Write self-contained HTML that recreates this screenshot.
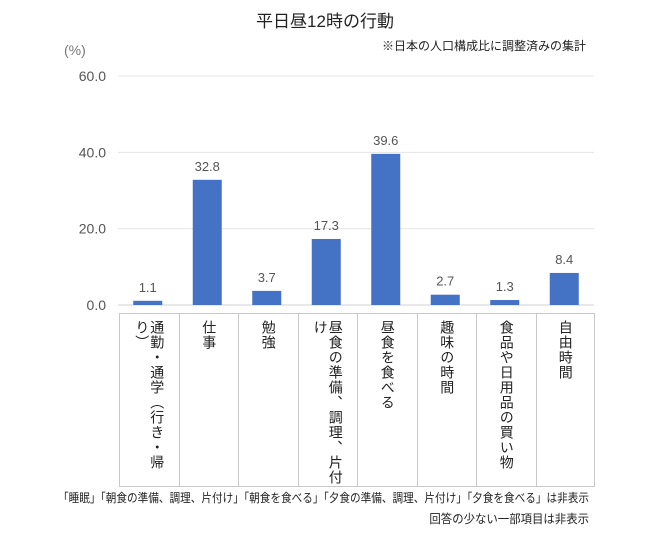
<!DOCTYPE html>
<html><head><meta charset="utf-8">
<style>
body{margin:0;background:#fff;font-family:"Liberation Sans","Noto Sans CJK JP",sans-serif;}
#wrap{position:relative;width:650px;height:544px;overflow:hidden;}
svg{position:absolute;left:0;top:0}
.cell{position:absolute;top:313px;height:174px;border-left:1px solid #c8c8c8;box-sizing:border-box;}
.cell span{position:absolute;top:6px;left:50%;transform:translateX(-50%);writing-mode:vertical-rl;font-size:14px;line-height:15px;color:#222;height:168px;letter-spacing:1px;}
.note{position:absolute;font-size:12px;color:#222;white-space:nowrap}
</style></head><body>
<div id="wrap">
<svg id="svg" width="650" height="544"></svg>
<div id="table" style="position:absolute;left:119px;top:0;width:473px;height:544px;"></div>
<div class="note" style="left:58px;top:489px;transform:scaleX(0.885);transform-origin:left top;">「睡眠」「朝食の準備、調理、片付け」「朝食を食べる」「夕食の準備、調理、片付け」「夕食を食べる」は非表示</div>
<div class="note" style="right:61px;top:510px;transform:scaleX(0.95);transform-origin:right top;">回答の少ない一部項目は非表示</div>
</div>
<script>
const categories=["通勤・通学（行き・帰り）","仕事","勉強","昼食の準備、調理、片付け","昼食を食べる","趣味の時間","食品や日用品の買い物","自由時間"];
const values=[1.1,32.8,3.7,17.3,39.6,2.7,1.3,8.4];
const ticks=[0,20,40,60];
const tickLabels=["0.0","20.0","40.0","60.0"];
const NS="http://www.w3.org/2000/svg";
const svg=document.getElementById('svg');
const x0=118,x1=594,yBase=305,yTop=76,vmax=60;
const bw=(x1-x0)/categories.length;
function y(v){return yBase-(v/vmax)*(yBase-yTop);}
function xc(i){return x0+bw*(i+0.5);}
function mk(t,a,txt){const e=document.createElementNS(NS,t);for(const k in a)e.setAttribute(k,a[k]);if(txt!=null)e.textContent=txt;svg.appendChild(e);return e;}
let e=mk('text',{x:325,y:27,'text-anchor':'middle','font-size':17,fill:'#222'},'平日昼12時の行動');

e=mk('text',{x:586,y:50,'text-anchor':'end','font-size':12,fill:'#222'},'※日本の人口構成比に調整済みの集計');

e=mk('text',{x:64,y:55,'font-size':14,fill:'#777'},'(%)');

ticks.forEach((t,i)=>{
  const g=mk('line',{x1:x0,x2:x1,y1:y(t),y2:y(t),stroke:t===0?'#d0d0d0':'#e4e4e4','stroke-width':1});
  
  const l=mk('text',{x:106,y:y(t)+5,'text-anchor':'end','font-size':14,fill:'#555'},tickLabels[i]);
  
});
values.forEach((v,i)=>{
  const r=mk('rect',{x:xc(i)-14.5,y:y(v),width:29,height:yBase-y(v),fill:'#4472c4'});
  
  const t=mk('text',{x:xc(i),y:y(v)-9,'text-anchor':'middle','font-size':13,fill:'#555'},v.toFixed(1));
  
});
const tb=document.getElementById('table');
categories.forEach((c,i)=>{
  const d=document.createElement('div');
  d.className='cell';
  
  
  d.style.left=(bw*i)+'px';d.style.width=bw+'px';
  if(i===categories.length-1)d.style.borderRight='1px solid #c8c8c8';
  d.style.borderBottom='1px solid #c8c8c8';d.style.borderTop='1px solid #c8c8c8';
  const s=document.createElement('span');s.textContent=c;
  
  
  d.appendChild(s);tb.appendChild(d);
});
</script>
</body></html>
